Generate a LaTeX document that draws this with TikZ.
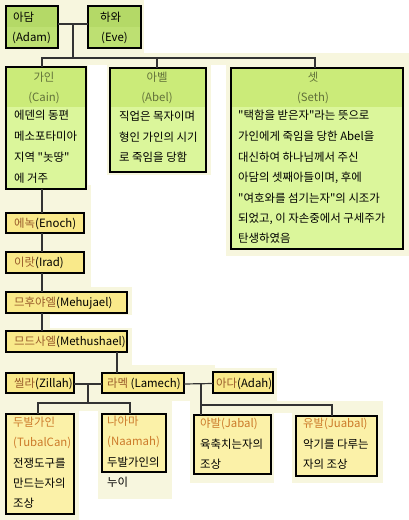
\documentclass[tikz,border=0pt]{standalone}
\usepackage{fontspec}
\newfontfamily\kr{Noto Sans CJK KR}
\usetikzlibrary{calc}
\definecolor{cream}{HTML}{F7F6DE}
\definecolor{adamhd}{HTML}{B4D967}
\definecolor{adambd}{HTML}{BDE072}
\definecolor{grhd}{HTML}{CBEB79}
\definecolor{grbd}{HTML}{DBF69B}
\definecolor{ylw}{HTML}{F9E98A}
\definecolor{ylwlt}{HTML}{FBF1A8}
\definecolor{brn}{HTML}{985A2A}
\definecolor{org}{HTML}{CC7A2A}
\definecolor{olv}{HTML}{62723A}
\definecolor{conncol}{HTML}{333333}
\tikzset{
 box/.style={draw=black, line width=1.2pt, anchor=north west, inner sep=0pt, outer sep=0pt},
 hdr/.style 2 args={path picture={\fill[#1] (path picture bounding box.north west) rectangle ([yshift=-#2]path picture bounding box.north east);}},
 txt/.style={inner sep=0pt, anchor=base west, font=\kr\fontsize{11.4}{13}\selectfont},
 ctxt/.style={inner sep=0pt, anchor=base, font=\kr\fontsize{11.4}{13}\selectfont},
 conn/.style={draw=conncol, line width=1.2pt},
}
\begin{document}
\begin{tikzpicture}[x=1pt,y=-1pt]
\useasboundingbox (0,0) rectangle (409,520);
% background
\fill[white] (0,0) rectangle (409,520);
\fill[cream] (0,0) rectangle (144,53);
\fill[cream] (0,53) rectangle (409,65);
\fill[cream] (0,65) rectangle (88,185);
\fill[cream] (0,185) rectangle (91,287);
\fill[cream] (107,65) rectangle (211,175);
\fill[cream] (226,65) rectangle (409,256);
\fill[cream] (0,287) rectangle (132,315);
\fill[cream] (0,315) rectangle (50,328);
\fill[cream] (0,328) rectangle (132,365);
\fill[cream] (0,365) rectangle (215,401);
\fill[cream] (215,368) rectangle (277,401);
\fill[cream] (0,401) rectangle (79,520);
\fill[cream] (0,401) rectangle (172,411);
\fill[cream] (98,411) rectangle (172,499);
\fill[cream] (190,401) rectangle (383,413);
\fill[cream] (190,413) rectangle (274,483);
\fill[cream] (292,413) rectangle (383,483);

% boxes
\node[box, fill=adambd, hdr={adamhd}{21pt}, minimum width=52pt, minimum height=42pt] (adam) at (6,6) {};
\node[box, fill=adambd, hdr={adamhd}{21pt}, minimum width=53pt, minimum height=42pt] (eve) at (88,6) {};
\node[box, fill=grbd, hdr={grhd}{40pt}, minimum width=80pt, minimum height=122pt] (cain) at (6,67) {};
\node[box, fill=grbd, hdr={grhd}{39pt}, minimum width=96pt, minimum height=104pt] (abel) at (110,68) {};
\node[box, fill=grbd, hdr={grhd}{39pt}, minimum width=172pt, minimum height=181pt] (seth) at (231,68) {};
\node[box, fill=ylw, minimum width=78pt, minimum height=20pt] (enoch) at (6,213) {};
\node[box, fill=ylw, minimum width=78pt, minimum height=21pt] (irad) at (6,252) {};
\node[box, fill=ylw, minimum width=121pt, minimum height=21pt] (mehu) at (6,292) {};
\node[box, fill=ylw, minimum width=121pt, minimum height=21pt] (methu) at (6,331) {};
\node[box, fill=ylw, minimum width=68pt, minimum height=20pt] (zillah) at (6,373) {};
\node[box, fill=ylw, minimum width=82pt, minimum height=20pt] (lamech) at (102,373) {};
\node[box, fill=ylw, minimum width=60pt, minimum height=21pt] (adah) at (213,372) {};
\node[box, fill=ylwlt, minimum width=68pt, minimum height=100pt] (tubal) at (6,414) {};
\node[box, fill=ylwlt, minimum width=64pt, minimum height=58pt] (naamah) at (102,414) {};
\node[box, fill=ylwlt, minimum width=77pt, minimum height=59pt] (jabal) at (194,415) {};
\node[box, fill=ylwlt, minimum width=81pt, minimum height=60pt] (jubal) at (296,416) {};

% connectors
\coordinate (bus1) at (73,58);
\draw[conn] ([yshift=3pt]adam.east) -- ([yshift=3pt]eve.west);
\draw[conn] ($([yshift=3pt]adam.east)!0.5!([yshift=3pt]eve.west)$) -- (bus1);
\draw[conn] ([xshift=36pt]cain.north west) |- (bus1);
\draw[conn] (bus1) -| ([xshift=84pt]seth.north west);
\draw[conn] ([xshift=-1pt]abel.north) -- ([xshift=-1pt]abel.north |- bus1);
\draw[conn] ([xshift=36pt]cain.south west) -- ([xshift=36pt]enoch.north west);
\draw[conn] ([xshift=36pt]enoch.south west) -- ([xshift=36pt]irad.north west);
\draw[conn] ([xshift=36pt]irad.south west) -- ([xshift=36pt]mehu.north west);
\draw[conn] ([xshift=36pt]mehu.south west) -- ([xshift=36pt]methu.north west);
\draw[conn] ([xshift=111pt]methu.south west) -- ([xshift=15pt]lamech.north west);
\coordinate (bus2) at (88,403);
\draw[conn] ([yshift=-1pt]zillah.east) -- ([yshift=-1pt]lamech.west);
\draw[conn] ($([yshift=-1pt]zillah.east)!0.5!([yshift=-1pt]lamech.west)$) -- (bus2);
\draw[conn] ([xshift=32pt]tubal.north west) |- (bus2) -| ([xshift=28pt]naamah.north west);
\coordinate (bus3) at (201,405);
\draw[conn] ([yshift=-1pt]lamech.east) -- ([yshift=-1pt]adah.west);
\draw[conn] ([xshift=7pt]jabal.north west) -- ([xshift=7pt]jabal.north west |- lamech.east);
\draw[conn] (bus3) -| ([xshift=36pt]jubal.north west);

% texts
\node[txt] (t1) at (13,21) {아담};
\node[txt] (t2) at (12,41) {(Adam)};
\node[txt] (t3) at (100,21) {하와};
\node[txt] (t4) at (101,41) {(Eve)};

\node[ctxt, text=olv] (t5) at (44,81) {가인};
\node[ctxt, text=olv] (t6) at (44,101) {(Cain)};
\node[txt] (t7) at (14,119.5) {에덴의 동편};
\node[txt] (t8) at (14,140.5) {메소포타미아};
\node[txt] (t9) at (14,161) {지역 "놋땅"};
\node[txt] (t10) at (14,182) {에 거주};

\node[ctxt, text=olv] (t11) at (157,81) {아벨};
\node[ctxt, text=olv] (t12) at (157,101) {(Abel)};
\node[txt] (t13) at (119,120) {직업은 목자이며};
\node[txt] (t14) at (119,141) {형인 가인의 시기};
\node[txt] (t15) at (119,161) {로 죽임을 당함};

\node[ctxt, text=olv] (t16) at (313,81) {셋};
\node[ctxt, text=olv] (t17) at (313,101) {(Seth)};
\node[txt] (t18) at (238,119) {"택함을 받은자"라는 뜻으로};
\node[txt] (t19) at (238,140) {가인에게 죽임을 당한 Abel을};
\node[txt] (t20) at (238,161) {대신하여 하나님께서 주신};
\node[txt] (t21) at (238,181.5) {아담의 셋째아들이며, 후에};
\node[txt] (t22) at (238,202) {"여호와를 섬기는자"의 시조가};
\node[txt] (t23) at (238,222) {되었고, 이 자손중에서 구세주가};
\node[txt] (t24) at (238,242) {탄생하였음};

\node[txt] (t25) at (14,227) {{\color{brn}에녹}(Enoch)};
\node[txt] (t26) at (14,266.5) {{\color{brn}이랏}(Irad)};
\node[txt] (t27) at (14,306.5) {{\color{brn}므후야엘}(Mehujael)};
\node[txt] (t28) at (14,345.5) {{\color{brn}므드사엘}(Methushael)};
\node[txt] (t29) at (14,387) {{\color{brn}씰라}(Zillah)};
\node[txt] (t30) at (107,387) {{\color{brn}라멕} (Lamech)};
\node[txt] (t31) at (216,387) {{\color{brn}아다}(Adah)};

\node[txt, text=org] (t32) at (13,426) {두발가인};
\node[txt, text=org] (t33) at (13,446) {(TubalCan)};
\node[txt] (t34) at (13,467) {전쟁도구를};
\node[txt] (t35) at (13,487) {만드는자의};
\node[txt] (t36) at (13,507) {조상};

\node[txt, text=org] (t37) at (107,425) {나아마};
\node[txt, text=org] (t38) at (107,445) {(Naamah)};
\node[txt] (t39) at (107,466) {두발가인의};
\node[txt] (t40) at (107,486) {누이};

\node[txt, text=org] (t41) at (200,427) {야발(Jabal)};
\node[txt] (t42) at (200,448) {육축치는자의};
\node[txt] (t43) at (200,468) {조상};

\node[txt, text=org] (t44) at (303,427) {유발(Juabal)};
\node[txt] (t45) at (303,448) {악기를 다루는};
\node[txt] (t46) at (303,468) {자의 조상};
\end{tikzpicture}
\end{document}
